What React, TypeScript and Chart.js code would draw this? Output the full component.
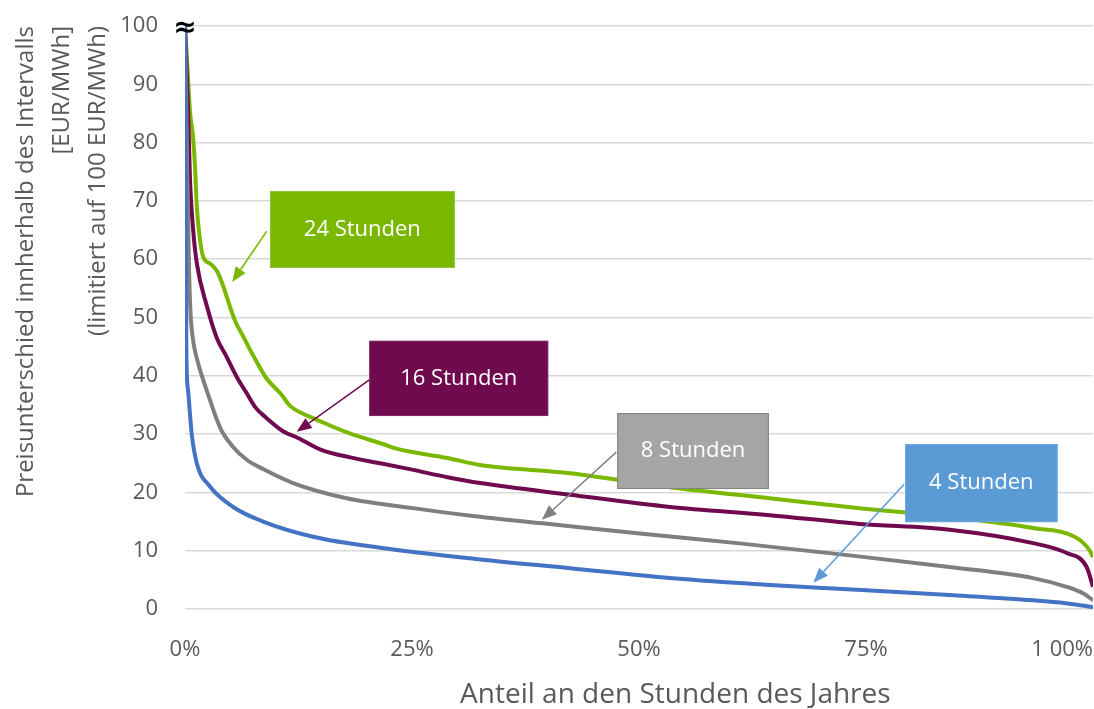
import { useEffect, useRef } from "react";
import { Chart, registerables } from "chart.js";

Chart.register(...registerables);

// Share of the year's hours (%), sorted by descending price spread
const h4X = [0, 0.1, 0.15, 0.33, 0.74, 1.3, 2.75, 5.3, 8.6, 14.1, 21.5, 32.5, 42.4, 53.4, 64.4, 74.0, 84.2, 93.4, 97.0, 100];
const h4Y = [100, 60, 44, 37.6, 30, 25, 21, 17.5, 15, 12.4, 10.5, 8.5, 7.0, 5.3, 4.1, 3.3, 2.4, 1.5, 1.0, 0.3];

const h8X = [0, 0.25, 0.45, 0.6, 0.9, 1.3, 2.5, 3.9, 5.3, 6.8, 8.6, 11.9, 17.8, 25.1, 31.5, 39.4, 49.8, 60.8, 73.2, 84.2, 93.4, 97.1, 99, 100];
const h8Y = [100, 75, 58, 51, 46, 43, 37, 31, 27.8, 25.6, 24, 21.6, 19, 17.3, 16.0, 14.7, 13.0, 11.3, 9.2, 7.2, 5.3, 3.8, 2.6, 1.5];

const h16X = [0, 0.35, 0.55, 0.9, 1.3, 2.4, 3.5, 4.5, 5.7, 6.8, 7.8, 8.8, 10.8, 12.5, 15, 18.2, 21.5, 25, 28.9, 32.5, 42.4, 53.4, 64.4, 74.3, 84.2, 93.4, 97.1, 99.3, 100];
const h16Y = [100, 85, 73.6, 65, 59.3, 52, 46.5, 43.5, 39.8, 37, 34.5, 33, 30.5, 29.3, 27.3, 26, 25, 23.9, 22.6, 21.6, 19.6, 17.5, 16.1, 14.6, 13.6, 11.3, 9.6, 7.2, 3.8];

const h24X = [0, 0.3, 0.55, 0.88, 1.1, 1.3, 1.6, 2.0, 2.8, 3.5, 4.3, 4.6, 5.5, 6.5, 7.5, 9.0, 10.5, 11.6, 13, 14.3, 18, 21.8, 23.3, 28.9, 32.5, 42.4, 53.4, 64.4, 74.3, 84.2, 93.4, 98.2, 99.6, 100];
const h24Y = [100, 92, 85.3, 81, 76, 69, 64, 60.4, 59.2, 58, 55, 53.5, 49.5, 46.5, 43.5, 39.5, 37, 34.8, 33.5, 32.6, 30.2, 28.3, 27.5, 25.9, 24.7, 23.3, 20.9, 19, 17.3, 15.8, 13.9, 12.2, 10.1, 8.9];

const seriesNames = ["4 Stunden", "8 Stunden", "16 Stunden", "24 Stunden"];
const seriesX = [h4X, h8X, h16X, h24X];
const seriesY = [h4Y, h8Y, h16Y, h24Y];
const lineColors = ["#4472C4", "#7F7F7F", "#6F0A4F", "#7AB800"];

const xTickValues = [0, 25, 50, 75, 100];
const xTickLabels = ["0%", "25%", "50%", "75%", "1 00%"];

const yTitleLines = [
  "Preisunterschied innherhalb des Intervalls",
  "[EUR/MWh]",
  "(limitiert auf 100 EUR/MWh)",
];
const xTitle = "Anteil an den Stunden des Jahres";

// Callout boxes with arrows, placed in data units (x in %, y in EUR/MWh)
const callouts = [
  { text: "24 Stunden", fill: "#7AB800", stroke: "#8DC53A", arrow: "#7AB800", box: [9.36, 71.7, 29.7, 58.5], from: [9.0, 64.8], to: [5.2, 56.1] },
  { text: "16 Stunden", fill: "#6F0A4F", stroke: "#7E2A63", arrow: "#6F0A4F", box: [20.3, 46.0, 40.0, 33.1], from: [20.3, 39.3], to: [12.3, 30.4] },
  { text: "8 Stunden", fill: "#A5A5A5", stroke: "#808080", arrow: "#808080", box: [47.6, 33.6, 64.3, 20.6], from: [47.5, 26.9], to: [39.3, 15.3] },
  { text: "4 Stunden", fill: "#5B9BD5", stroke: "#6FA8DC", arrow: "#5B9BD5", box: [79.3, 28.3, 96.1, 14.9], from: [79.2, 21.4], to: [69.2, 4.5] },
];

const FONT = "'Open Sans', 'Noto Sans', sans-serif";
// non-breaking lead-in that nudges the axis title to the right of the plot centre
const X_TITLE_INDENT = "\u00A0".repeat(10);

const calloutPlugin = {
  id: "callouts",
  afterDatasetsDraw(chart: any) {
    const { ctx } = chart;
    const xs = chart.scales.x;
    const ys = chart.scales.y;
    ctx.save();

    // axis break mark at the top of the value axis
    ctx.fillStyle = "#000000";
    ctx.font = "bold 28px 'DejaVu Sans'";
    ctx.textAlign = "center";
    ctx.textBaseline = "middle";
    ctx.fillText("≈", xs.getPixelForValue(0), ys.getPixelForValue(100) + 3);

    callouts.forEach((c) => {
      const fx = xs.getPixelForValue(c.from[0]);
      const fy = ys.getPixelForValue(c.from[1]);
      const tx = xs.getPixelForValue(c.to[0]);
      const ty = ys.getPixelForValue(c.to[1]);
      const ang = Math.atan2(ty - fy, tx - fx);
      const headLen = 15;
      const headHalf = 6;
      const bx = tx - headLen * Math.cos(ang);
      const by = ty - headLen * Math.sin(ang);

      ctx.strokeStyle = c.arrow;
      ctx.lineWidth = 1.5;
      ctx.beginPath();
      ctx.moveTo(fx, fy);
      ctx.lineTo(bx, by);
      ctx.stroke();

      ctx.fillStyle = c.arrow;
      ctx.beginPath();
      ctx.moveTo(tx, ty);
      ctx.lineTo(bx + headHalf * Math.sin(ang), by - headHalf * Math.cos(ang));
      ctx.lineTo(bx - headHalf * Math.sin(ang), by + headHalf * Math.cos(ang));
      ctx.closePath();
      ctx.fill();

      const left = xs.getPixelForValue(c.box[0]);
      const top = ys.getPixelForValue(c.box[1]);
      const right = xs.getPixelForValue(c.box[2]);
      const bottom = ys.getPixelForValue(c.box[3]);
      ctx.fillStyle = c.fill;
      ctx.fillRect(left, top, right - left, bottom - top);
      ctx.strokeStyle = c.stroke;
      ctx.lineWidth = 1;
      ctx.strokeRect(left + 0.5, top + 0.5, right - left - 1, bottom - top - 1);

      ctx.fillStyle = "#FFFFFF";
      ctx.font = `22px ${FONT}`;
      ctx.textAlign = "center";
      ctx.textBaseline = "middle";
      ctx.fillText(c.text, (left + right) / 2, (top + bottom) / 2);
    });

    ctx.restore();
  },
};

export default function App() {
  const canvasRef = useRef<HTMLCanvasElement | null>(null);

  useEffect(() => {
    const canvas = canvasRef.current;
    if (!canvas) return;

    const datasets = seriesNames.map((name, i) => ({
      label: name,
      data: seriesX[i].map((x, j) => ({ x, y: seriesY[i][j] })),
      borderColor: lineColors[i],
      backgroundColor: lineColors[i],
      borderWidth: 4,
      pointRadius: 0,
      fill: false,
      cubicInterpolationMode: "monotone" as const,
    }));

    const chart = new Chart(canvas, {
      type: "line",
      data: { datasets },
      plugins: [calloutPlugin],
      options: {
        animation: false,
        responsive: false,
        layout: { padding: { left: 8, top: 26, right: 1, bottom: 0 } },
        plugins: {
          legend: { display: false },
          tooltip: { enabled: false },
        },
        scales: {
          x: {
            type: "linear",
            min: 0,
            max: 100,
            grid: { display: false, drawTicks: false },
            border: { display: false },
            afterBuildTicks: (scale: any) => {
              // a blank lead tick keeps "0%" centred while the last label stays inside
              scale.ticks = [{ value: 0 }, ...xTickValues.map((v) => ({ value: v }))];
            },
            afterFit: (scale: any) => {
              scale.height = 100;
              scale.paddingLeft = 0;
              scale.paddingRight = 0;
            },
            ticks: {
              autoSkip: false,
              maxRotation: 0,
              align: "inner",
              padding: 28,
              color: "#595959",
              font: { family: FONT, size: 22 },
              callback: (_v: any, i: number) => (i === 0 ? "" : xTickLabels[i - 1]),
            },
            title: {
              display: true,
              text: X_TITLE_INDENT + xTitle,
              color: "#595959",
              font: { family: FONT, size: 28, lineHeight: 1.0 },
              padding: { top: 17, bottom: 0 },
            },
          },
          y: {
            min: 0,
            max: 100,
            grid: { color: "#D9D9D9", lineWidth: 1.5, drawTicks: false },
            border: { display: false },
            afterFit: (scale: any) => {
              scale.width = 177;
              scale.paddingTop = 0;
              scale.paddingBottom = 0;
            },
            ticks: {
              stepSize: 10,
              padding: 27,
              color: "#595959",
              font: { family: FONT, size: 22 },
            },
            title: {
              display: true,
              text: yTitleLines,
              align: "end",
              color: "#595959",
              font: { family: FONT, size: 24, lineHeight: 1.5 },
              padding: { top: 0, bottom: 4 },
            },
          },
        },
      },
    });

    return () => chart.destroy();
  }, []);

  return (
    <div style={{ position: "absolute", left: 0, top: 0, width: 1094, height: 709, background: "#FFFFFF" }}>
      <canvas ref={canvasRef} width={1094} height={709} />
    </div>
  );
}
